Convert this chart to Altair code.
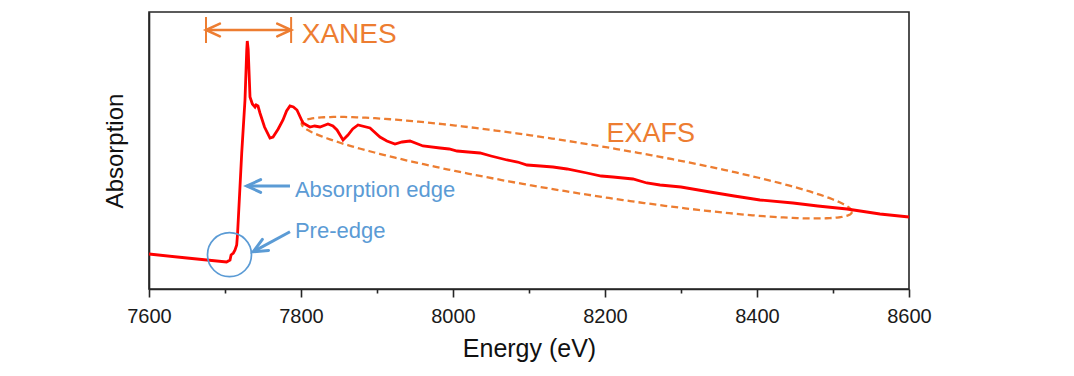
import altair as alt
import numpy as np
import pandas as pd

# ---------------- data ----------------
energy = [7600, 7650, 7702, 7706.6, 7708, 7711, 7713.2, 7715.4, 7716.5, 7719.7,
          7722, 7726.3, 7728.6, 7729.3, 7730.5, 7732.9, 7736, 7739.5, 7741, 7743.4,
          7746, 7752, 7759.2, 7763.2, 7770, 7776.3, 7781, 7785.5, 7790, 7794.7,
          7802.6, 7811.8, 7818, 7825, 7835.5, 7842, 7847.4, 7855.3, 7861.8, 7868,
          7875, 7890.8, 7903.9, 7913, 7923.7, 7933, 7943.4, 7960.5, 7982.9, 7995,
          8005.3, 8020, 8035.5, 8050, 8071.1, 8085, 8097.4, 8115, 8131.6, 8150,
          8176.3, 8195, 8210.5, 8236.8, 8255, 8272.4, 8300, 8338.2, 8370, 8403.9,
          8447.4, 8480, 8518.4, 8561.8, 8600]
absorption = [0.35, 0.31, 0.27, 0.29, 0.34, 0.36, 0.39, 0.44, 0.55, 1.02,
              1.36, 1.89, 2.39, 2.48, 2.40, 1.92, 1.85, 1.82, 1.84, 1.83,
              1.76, 1.62, 1.51, 1.52, 1.60, 1.69, 1.78, 1.83, 1.82, 1.79,
              1.66, 1.62, 1.63, 1.62, 1.65, 1.63, 1.59, 1.49, 1.54, 1.60,
              1.64, 1.61, 1.52, 1.48, 1.45, 1.47, 1.48, 1.43, 1.41, 1.40,
              1.38, 1.37, 1.36, 1.33, 1.29, 1.27, 1.24, 1.23, 1.22, 1.20,
              1.16, 1.13, 1.12, 1.10, 1.06, 1.04, 1.02, 0.97, 0.93, 0.89,
              0.86, 0.83, 0.80, 0.75, 0.72]

x_ticks = [7600, 7700, 7800, 7900, 8000, 8100, 8200, 8300, 8400, 8500, 8600]
X_DOMAIN = [7600, 8600]
Y_DOMAIN = [0, 2.77]

# annotation anchors (energy, absorption)
xanes_left, xanes_right = 7675, 7787
xanes_low, xanes_high, xanes_mid = 2.46, 2.72, 2.59

texts = ["XANES", "EXAFS", "Absorption edge", "Pre-edge"]
text_e = [7801, 8202, 7792, 7792]
text_a = [2.46, 1.473, 0.923, 0.507]
text_color = ["#ED7D31", "#ED7D31", "#5B9BD5", "#5B9BD5"]
text_size = [28, 27, 22, 22]

# blue arrows: tail -> tip
arrow_tail_e = [7785.5, 7785.5]
arrow_tail_a = [1.03, 0.573]
arrow_tip_e = [7728.6, 7737.2]
arrow_tip_a = [1.03, 0.373]
arrow_angle = [0, 331]

circle_e, circle_a = 7705.9, 0.343

# EXAFS ellipse: centre, semi-axes (pixels), tilt (deg)
ell_e, ell_a = 8162.9, 1.213
ell_major, ell_minor, ell_tilt = 278.7, 25, 9.16

W, H = 760, 277
ORANGE = "#ED7D31"
BLUE = "#5B9BD5"
FONT = "Liberation Sans"
AXIS_COLOR = "#262626"

# ---------------- frames ----------------
curve = pd.DataFrame({"E": energy, "A": absorption})

px_per_e = W / (X_DOMAIN[1] - X_DOMAIN[0])
px_per_a = H / (Y_DOMAIN[1] - Y_DOMAIN[0])
t = np.linspace(0, 2 * np.pi, 241)
th = np.deg2rad(ell_tilt)
dx = ell_major * np.cos(th) * np.cos(t) - ell_minor * np.sin(th) * np.sin(t)
dy = ell_major * np.sin(th) * np.cos(t) + ell_minor * np.cos(th) * np.sin(t)
ellipse = pd.DataFrame({"E": ell_e + dx / px_per_e, "A": ell_a - dy / px_per_a, "i": np.arange(len(t))})

xs = alt.Scale(domain=X_DOMAIN, nice=False, zero=False)
ys = alt.Scale(domain=Y_DOMAIN, nice=False, zero=False)

x_axis = alt.Axis(
    values=x_ticks, format="d", title="Energy (eV)",
    labelExpr="datum.value % 200 === 0 ? datum.label : ''",
    tickSize={"condition": {"test": "datum.value % 200 === 0", "value": 8}, "value": 4},
    labelFontSize=20, labelFont=FONT, labelColor="#1a1a1a", labelPadding=9,
    labelOverlap=False, labelFlush=False,
    titleFontSize=25, titleFont=FONT, titleFontWeight="normal", titleColor="#111",
    titlePadding=10, domainColor=AXIS_COLOR, domainWidth=1.6, tickColor=AXIS_COLOR, tickWidth=1.6,
    grid=False,
)
y_axis = alt.Axis(
    title="Absorption", labels=False, ticks=False, grid=False,
    titleFontSize=24, titleFont=FONT, titleFontWeight="normal", titleColor="#111",
    titlePadding=22, domainColor=AXIS_COLOR, domainWidth=1.6,
)


def X(field):
    return alt.X(field, scale=xs, axis=x_axis)


def Y(field):
    return alt.Y(field, scale=ys, axis=y_axis)


line = alt.Chart(curve).mark_line(color="#FF0000", strokeWidth=2.8).encode(
    x=X("E:Q"), y=Y("A:Q"))

ell = alt.Chart(ellipse).mark_line(color=ORANGE, strokeWidth=2.3, strokeDash=[7, 4]).encode(
    x=X("E:Q"), y=Y("A:Q"), order="i:Q")

# XANES bracket
bars = pd.DataFrame({"E": [xanes_left, xanes_right], "A": [xanes_low] * 2, "A2": [xanes_high] * 2})
bracket_v = alt.Chart(bars).mark_rule(color=ORANGE, strokeWidth=2).encode(
    x=X("E:Q"), y=Y("A:Q"), y2="A2:Q")
shaft = pd.DataFrame({"E": [xanes_left], "E2": [xanes_right], "A": [xanes_mid]})
bracket_h = alt.Chart(shaft).mark_rule(color=ORANGE, strokeWidth=2.5).encode(
    x=X("E:Q"), x2="E2:Q", y=Y("A:Q"))
heads_o = pd.DataFrame({"E": [xanes_left, xanes_right], "A": [xanes_mid] * 2, "ang": [0, 180]})
chev = "M2.2,-1L0,0L2.2,1"
bracket_heads = alt.Chart(heads_o).mark_point(
    shape=chev, filled=False, stroke=ORANGE, strokeWidth=2.6, size=160, opacity=1,
    strokeCap="round").encode(
    x=X("E:Q"), y=Y("A:Q"), angle=alt.Angle("ang:Q", scale=None))

# blue arrows
arr = pd.DataFrame({"E": arrow_tail_e, "A": arrow_tail_a, "E2": arrow_tip_e, "A2": arrow_tip_a,
                    "ang": arrow_angle})
arr_shaft = alt.Chart(arr).mark_rule(color=BLUE, strokeWidth=3).encode(
    x=X("E:Q"), y=Y("A:Q"), x2="E2:Q", y2="A2:Q")
arr_heads = alt.Chart(arr).mark_point(
    shape=chev, filled=False, stroke=BLUE, strokeWidth=3, size=160, opacity=1,
    strokeCap="round").encode(
    x=X("E2:Q"), y=Y("A2:Q"), angle=alt.Angle("ang:Q", scale=None))

circ = alt.Chart(pd.DataFrame({"E": [circle_e], "A": [circle_a]})).mark_point(
    shape="circle", filled=False, stroke=BLUE, strokeWidth=1.7, size=1936, opacity=1).encode(
    x=X("E:Q"), y=Y("A:Q"))

txt_df = pd.DataFrame({"E": text_e, "A": text_a, "t": texts, "c": text_color, "s": text_size})
labels = alt.Chart(txt_df).mark_text(align="left", baseline="alphabetic", font=FONT).encode(
    x=X("E:Q"), y=Y("A:Q"),
    text="t:N", color=alt.Color("c:N", scale=None), size=alt.Size("s:Q", scale=None))

chart = alt.layer(ell, line, bracket_v, bracket_h, bracket_heads, arr_shaft, arr_heads, circ, labels).properties(
    width=W, height=H,
    autosize=alt.AutoSizeParams(type="none"),
    padding={"left": 149, "top": 12, "right": 165, "bottom": 87},
    background="white",
).configure_view(stroke=AXIS_COLOR, strokeWidth=1.6)

chart.save("out.html", embed_options={"renderer": "svg", "actions": False})
